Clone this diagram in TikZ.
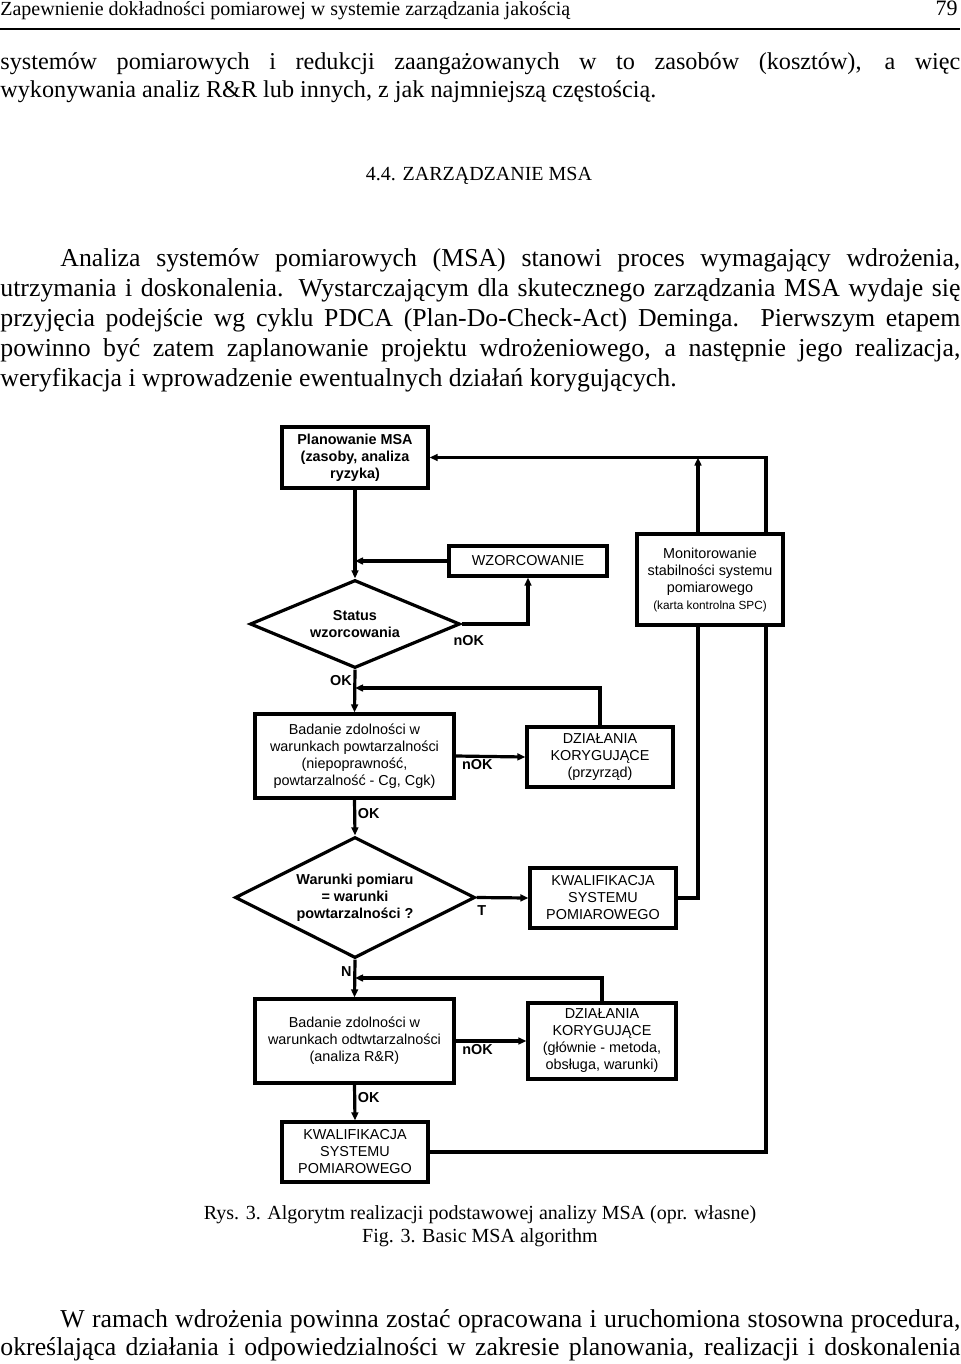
\documentclass[tikz,border=0pt]{standalone}
\usepackage{fontspec}
\setmainfont{Liberation Serif}
\setsansfont{Liberation Sans}
\usepackage{tikz}
\usetikzlibrary{arrows.meta, shapes.geometric, backgrounds}
\tikzset{
  box/.style={draw, rectangle, fill=white, align=center, inner sep=1pt, line width=1.6pt, font=\sffamily\fontsize{7.2}{8.5}\selectfont},
  decision/.style={draw, diamond, fill=white, aspect=2, inner sep=0pt, align=center, line width=1.6pt, font=\sffamily\bfseries\fontsize{7.2}{8.5}\selectfont},
  answer/.style={font=\sffamily\bfseries\fontsize{7.2}{8.5}\selectfont, inner sep=0.8pt},
  flow/.style={line width=1.6pt},
  bodyline/.style={anchor=base west, inner sep=0pt, font=\fontsize{12.9}{15}\selectfont},
  capline/.style={anchor=base, inner sep=0pt, font=\fontsize{10}{12}\selectfont},
}

\begin{document}
\begin{tikzpicture}[x=0.5pt, y=-0.5pt, >={Triangle[length=4pt,width=3.4pt]}]
\useasboundingbox (0,0) rectangle (960,1364);

% page text
\node[anchor=base west, inner sep=0pt, font=\fontsize{10}{12}\selectfont] (head) at (0,16) {Zapewnienie dokładności pomiarowej w systemie zarządzania jakością};
\node[anchor=base east, inner sep=0pt, font=\fontsize{11}{12}\selectfont] (pagenum) at (958,16) {79};
\draw[line width=1.2pt] (0,29) -- (960,29);
\node[bodyline, font=\fontsize{12.1}{15}\selectfont] (p1a) at (0,70) {\makebox[480pt][s]{systemów pomiarowych i redukcji zaangażowanych w to zasobów (kosztów), a więc}};
\node[bodyline, font=\fontsize{12.1}{15}\selectfont] (p1b) at (0,98) {wykonywania analiz R\&R lub innych, z jak najmniejszą częstością.};
\node[capline] (sect) at (479,181) {4.4. ZARZĄDZANIE MSA};
\node[bodyline] (p2a) at (60,266) {\makebox[450pt][s]{Analiza systemów pomiarowych (MSA) stanowi proces wymagający wdrożenia,}};
\node[bodyline] (p2b) at (0,296) {\makebox[480pt][s]{utrzymania i doskonalenia. Wystarczającym dla skutecznego zarządzania MSA wydaje się}};
\node[bodyline] (p2c) at (0,326) {\makebox[480pt][s]{przyjęcia podejście wg cyklu PDCA (Plan-Do-Check-Act) Deminga. Pierwszym etapem}};
\node[bodyline] (p2d) at (0,356) {\makebox[480pt][s]{powinno być zatem zaplanowanie projektu wdrożeniowego, a następnie jego realizacja,}};
\node[bodyline] (p2e) at (0,386) {weryfikacja i wprowadzenie ewentualnych działań korygujących.};

% flowchart
\node[box, font=\sffamily\bfseries\fontsize{7.2}{8.5}\selectfont, minimum width=73pt, minimum height=30.5pt] (plan) at (355,457.5) {Planowanie MSA\\(zasoby, analiza\\ryzyka)};
\node[box, minimum width=79pt, minimum height=15pt] (wzor) at (528,561) {WZORCOWANIE};
\node[box, minimum width=73pt, minimum height=45.5pt] (monit) at (710,579.5) {Monitorowanie\\stabilności systemu\\pomiarowego\\{\fontsize{5.9}{7.5}\selectfont(karta kontrolna SPC)}};
\node[decision, minimum width=105pt, minimum height=44pt] (status) at (355,624) {Status\\wzorcowania};
\node[box, minimum width=99.5pt, minimum height=42pt] (bad1) at (354.5,756) {Badanie zdolności w\\warunkach powtarzalności\\(niepoprawność,\\powtarzalność - Cg, Cgk)};
\node[box, minimum width=73pt, minimum height=30pt] (dzial1) at (600,757) {DZIAŁANIA\\KORYGUJĄCE\\(przyrząd)};
\node[decision, minimum width=120pt, minimum height=60.5pt] (warunki) at (355,897.5) {Warunki pomiaru\\= warunki\\powtarzalności ?};
\node[box, minimum width=73pt, minimum height=30pt] (kwal1) at (603,898) {KWALIFIKACJA\\SYSTEMU\\POMIAROWEGO};
\node[box, minimum width=99.5pt, minimum height=42pt] (bad2) at (354.5,1041) {Badanie zdolności w\\warunkach odtwtarzalności\\(analiza R\&R)};
\node[box, minimum width=74pt, minimum height=38pt] (dzial2) at (602,1041) {DZIAŁANIA\\KORYGUJĄCE\\(głównie - metoda,\\obsługa, warunki)};
\node[box, minimum width=73pt, minimum height=30pt] (kwal2) at (355,1152) {KWALIFIKACJA\\SYSTEMU\\POMIAROWEGO};
\coordinate (j1) at (355,688);
\coordinate (j2) at (355,978);
\coordinate (loop) at (766,0);

\draw[->, flow] (plan.south) -- (status.north);
\draw[->, flow] (wzor.west) -- (wzor.west -| plan.south);
\draw[->, flow] (status.east) -| (wzor.south);
\node[answer, anchor=north west] (nok1) at ([xshift=-5pt, yshift=-4.5pt]status.east) {nOK};
\draw[->, flow] (status.south) -- node[answer, pos=0.26, left] {OK} (bad1.north);
\draw[->, flow] (dzial1.north) |- (j1);
\draw[->, flow] (bad1.east) -- node[answer, pos=0.31, below] {nOK} (dzial1.west);
\draw[->, flow] (bad1.south) -- node[answer, pos=0.38, right] {OK} (warunki.north);
\draw[->, flow] (warunki.east) -- node[answer, pos=0.1, below, yshift=-2.5pt] {T} (kwal1.west);
\draw[flow] (kwal1.east) -| ([xshift=-6pt]monit.south);
\draw[->, flow] ([xshift=-6pt]monit.north) -- ([xshift=-6pt]monit.north |- plan.east);
\draw[->, flow] (warunki.south) -- node[answer, pos=0.32, left] {N} (bad2.north);
\draw[->, flow] (dzial2.north) |- (j2);
\draw[->, flow] (bad2.east) -- node[answer, pos=0.31, below] {nOK} (dzial2.west);
\draw[->, flow] (bad2.south) -- node[answer, pos=0.36, right] {OK} (kwal2.north);
\begin{scope}[on background layer]
\draw[->, flow] (kwal2.east) -| (loop |- plan.east) -- (plan.east);
\end{scope}

\node[capline] (cap1) at (480,1219) {Rys. 3. Algorytm realizacji podstawowej analizy MSA (opr. własne)};
\node[capline] (cap2) at (480,1242) {Fig. 3. Basic MSA algorithm};
\node[bodyline] (p3a) at (60,1327) {\makebox[450pt][s]{W ramach wdrożenia powinna zostać opracowana i uruchomiona stosowna procedura,}};
\node[bodyline] (p3b) at (0,1355) {\makebox[480pt][s]{określająca działania i odpowiedzialności w zakresie planowania, realizacji i doskonalenia}};
\end{tikzpicture}
\end{document}
